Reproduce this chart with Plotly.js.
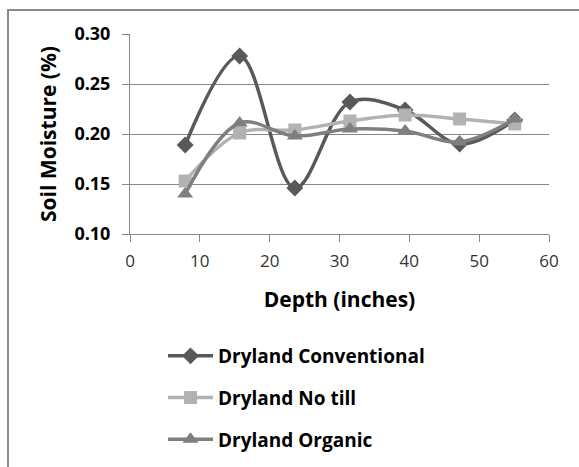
<!DOCTYPE html>
<html><head><meta charset="utf-8">
<script src="https://cdn.plot.ly/plotly-3.0.1.min.js"></script>
<style>
html,body{margin:0;padding:0;background:#fff;overflow:hidden;}
#frame{position:absolute;left:7px;top:9px;width:600px;height:500px;border-left:2px solid #8a8a8a;border-top:2px solid #8a8a8a;box-sizing:border-box;}
#chart{position:absolute;left:0;top:0;width:579px;height:467px;}
</style></head>
<body>
<div id="frame"></div>
<div id="chart"></div>
<script>
const depth = [7.9, 15.7, 23.6, 31.5, 39.4, 47.2, 55.1];
const conventional = [0.189, 0.278, 0.146, 0.232, 0.224, 0.190, 0.214];
const noTill = [0.153, 0.201, 0.204, 0.213, 0.219, 0.215, 0.210];
const organic = [0.140, 0.211, 0.198, 0.205, 0.203, 0.192, 0.215];
const names = ["Dryland Conventional", "Dryland No till", "Dryland Organic"];

const font = "'Open Sans', sans-serif";
function tr(y, name, color, symbol, size, g){
  return {x: depth, y: y, name: name, type: 'scatter', mode: 'lines+markers',
    legendgroup: g,
    line: {color: color, width: 3.5, shape: 'spline', smoothing: 1},
    marker: {color: color, symbol: symbol, size: size}};
}
const data = [
  tr(conventional, names[0], '#595959', 'diamond', 13, 'a'),
  tr(noTill, names[1], '#b2b2b2', 'square', 13, 'b'),
  tr(organic, names[2], '#7f7f7f', 'triangle-up', 14, 'c')
];
const layout = {
  width: 579, height: 467,
  margin: {l: 130, r: 30, t: 34, b: 233, autoexpand: false},
  paper_bgcolor: 'rgba(0,0,0,0)', plot_bgcolor: 'rgba(0,0,0,0)',
  font: {family: font, color: '#000'},
  xaxis: {range: [0, 60], dtick: 10, tick0: 0, showgrid: false, zeroline: false,
    showline: true, linecolor: '#868686', linewidth: 1,
    ticks: 'outside', ticklen: 7, tickcolor: '#868686', ticklabelstandoff: 5,
    tickfont: {size: 17, color: '#333', family: font},
    title: {text: 'Depth (inches)', font: {size: 21, family: font, weight: 'bold'}}},
  yaxis: {range: [0.10, 0.30], dtick: 0.05, tick0: 0.10, tickformat: '.2f',
    showgrid: true, gridcolor: '#868686', gridwidth: 1, zeroline: false,
    showline: true, linecolor: '#868686', linewidth: 1,
    ticks: 'outside', ticklen: 7, tickcolor: '#868686', ticklabelstandoff: 8,
    tickfont: {size: 18, family: font, weight: 'bold'},
    title: {text: 'Soil Moisture (%)', font: {size: 21, family: font, weight: 'bold'}, standoff: 12}},
  showlegend: true,
  legend: {x: 0.0788, y: -0.515,
    xanchor: 'left', yanchor: 'top',
    traceorder: 'grouped', tracegroupgap: 14, itemwidth: 45,
    font: {size: 19, family: font, weight: 'bold'}, bgcolor: 'rgba(0,0,0,0)'}
};
Plotly.newPlot('chart', data, layout, {staticPlot: true});
</script>
</body></html>
